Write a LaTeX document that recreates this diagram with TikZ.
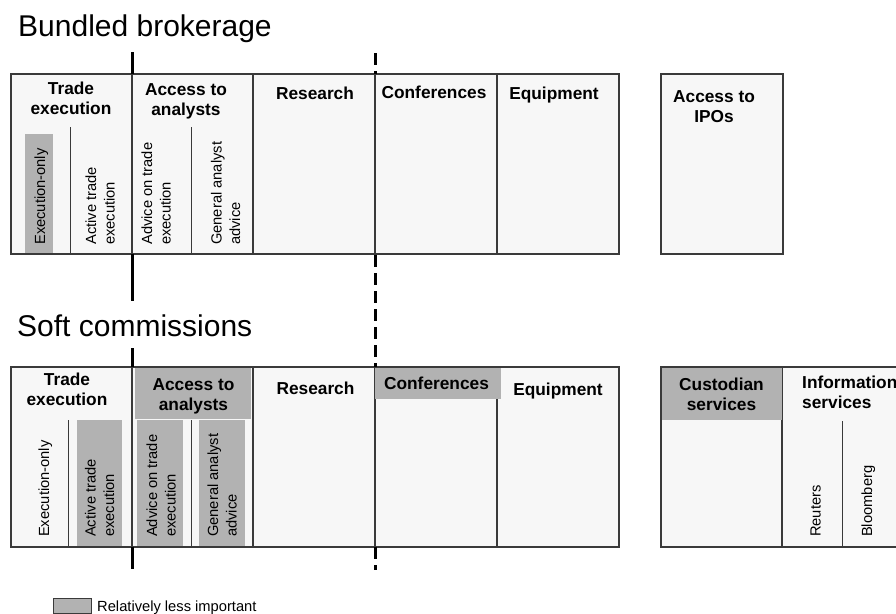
\documentclass[tikz,border=0pt]{standalone}
\usepackage{fontspec}
\setmainfont{Liberation Sans}
\definecolor{boxfill}{HTML}{F7F7F7}
\definecolor{boxline}{HTML}{3A3A3A}
\definecolor{grayfill}{HTML}{B2B2B2}
\newcommand{\mystack}[2][c]{\begin{tabular}[t]{@{}#1@{}}#2\end{tabular}}
\tikzset{
  boxst/.style={draw=boxline, fill=boxfill, line width=1.2pt},
  divst/.style={draw=boxline, line width=1.1pt},
  subdiv/.style={draw=boxline, line width=0.9pt},
  lessimp/.style={fill=grayfill},
  hdr/.style={inner sep=0pt, anchor=base, font=\fontsize{17.3}{20}\bfseries\selectfont},
  vert/.style={inner sep=0pt, anchor=base west, rotate=90, font=\fontsize{14.7}{18.5}\selectfont},
  ttl/.style={inner sep=0pt, anchor=base west, font=\fontsize{30}{36}\selectfont},
  leg/.style={inner sep=0pt, anchor=base west, font=\fontsize{14.7}{18}\selectfont},
  sepline/.style={line width=3pt, draw=black},
  sepdash/.style={line width=3pt, draw=black, dash pattern=on 12pt off 6pt},
}
\begin{document}
\begin{tikzpicture}[x=1pt,y=-1pt]
\useasboundingbox (0,0) rectangle (896,613);
\clip (0,0) rectangle (896,613);
\fill[white] (0,0) rectangle (896,613);

% ---------- titles
\node[ttl] (t1) at (18,36) {Bundled brokerage};
\node[ttl] (t2) at (17,336) {Soft commissions};

% ---------- top row
\draw[boxst] (11,74) rectangle (619,254);
\draw[divst] (132,74) -- (132,254);
\draw[divst] (253,74) -- (253,254);
\draw[divst] (375,74) -- (375,254);
\draw[divst] (497,74) -- (497,254);
\draw[subdiv] (70,127) -- (70,254);
\draw[subdiv] (191,127) -- (191,254);
\fill[lessimp] (25,134) rectangle (53,253.4);
\draw[boxst] (661,74) rectangle (783,254);

\node[hdr] (tTE) at (71,94) {\mystack{Trade\\execution}};
\node[hdr] (tAA) at (186,95) {\mystack{Access to\\analysts}};
\node[hdr] (tRe) at (315,99) {Research};
\node[hdr] (tCo) at (434,98) {Conferences};
\node[hdr] (tEq) at (554,99) {Equipment};
\node[hdr] (tIPO) at (714,102) {\mystack{Access to\\IPOs}};

\node[vert] (tEO) at (45,245) {Execution-only};
\node[vert] (tAT) at (96,245) {\mystack[l]{Active trade\\execution}};
\node[vert] (tAd) at (152,245) {\mystack[l]{Advice on trade\\execution}};
\node[vert] (tGA) at (221.5,245) {\mystack[l]{General analyst\\advice}};

% ---------- bottom row
\draw[boxst] (11,367) rectangle (619,547);
\draw[divst] (132,367) -- (132,547);
\draw[divst] (253,367) -- (253,547);
\draw[divst] (375,367) -- (375,547);
\draw[divst] (497,367) -- (497,547);
\draw[subdiv] (68,420) -- (68,547);
\draw[subdiv] (191,420) -- (191,547);
\fill[lessimp] (135,367.6) rectangle (251,419);
\fill[lessimp] (77,420) rectangle (122,546.4);
\fill[lessimp] (137,420) rectangle (183,546.4);
\fill[lessimp] (199,420) rectangle (245,546.4);
\fill[lessimp] (374.5,367.6) rectangle (501,399);

\draw[boxst] (661,367) rectangle (920,547);
\draw[divst] (782,367) -- (782,547);
\draw[subdiv] (842,421) -- (842,547);
\fill[lessimp] (661.6,367.6) rectangle (782,420);

\node[hdr] (bTE) at (67,385) {\mystack{Trade\\execution}};
\node[hdr] (bAA) at (193.5,390) {\mystack{Access to\\analysts}};
\node[hdr] (bRe) at (315.5,394) {Research};
\node[hdr] (bCo) at (436.5,389) {Conferences};
\node[hdr] (bEq) at (558,395) {Equipment};
\node[hdr] (bCS) at (721.5,390) {\mystack{Custodian\\services}};
\node[hdr, anchor=base west] (bIS) at (802,388) {\mystack[l]{Information\\services}};

\node[vert] (bEO) at (49,537) {Execution-only};
\node[vert] (bAT) at (95.5,537) {\mystack[l]{Active trade\\execution}};
\node[vert] (bAd) at (157,537) {\mystack[l]{Advice on trade\\execution}};
\node[vert] (bGA) at (218,537) {\mystack[l]{General analyst\\advice}};
\node[vert] (bRt) at (820.5,537) {Reuters};
\node[vert] (bBl) at (872,537) {Bloomberg};

% ---------- separator lines
\draw[sepline] (132,52) -- (132,74);
\draw[sepline] (132,254) -- (132,301);
\draw[sepline] (132,348) -- (132,367);
\draw[sepline] (132,547) -- (132,569);
\draw[sepdash] (375,53) -- (375,74);
\draw[sepdash] (375,255) -- (375,367);
\draw[sepdash] (375,547) -- (375,570);

% ---------- legend
\draw[fill=grayfill, draw=boxline, line width=0.8pt] (53,598) rectangle (91,613);
\node[leg] (legt) at (97,611) {Relatively less important};
\end{tikzpicture}
\end{document}
